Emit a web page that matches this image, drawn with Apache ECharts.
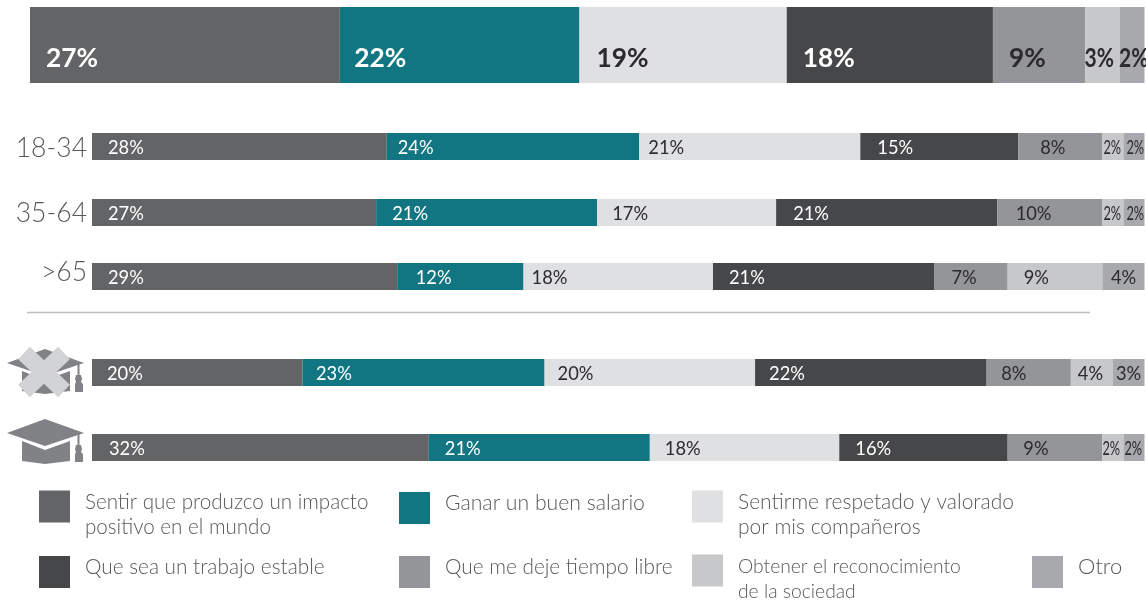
<!DOCTYPE html>
<html>
<head>
<meta charset="utf-8">
<title>Chart</title>
<style>
  html, body { margin: 0; padding: 0; background: #fff; }
  #chart { width: 1146px; height: 601px; }
</style>
<script src="https://cdn.jsdelivr.net/npm/echarts@6/dist/echarts.min.js"></script>
</head>
<body>
<div id="chart"></div>
<script>
// data
const categories = [
  'Sentir que produzco un impacto positivo en el mundo',
  'Ganar un buen salario',
  'Sentirme respetado y valorado por mis compañeros',
  'Que sea un trabajo estable',
  'Que me deje tiempo libre',
  'Obtener el reconocimiento de la sociedad',
  'Otro'
];
const rowNames = ['', '18-34', '35-64', '>65', '', ''];
const totalValues = [27.8, 21.5, 18.6, 18.5, 8.3, 3.1, 2.2];
const totalLabels = [27, 22, 19, 18, 9, 3, 2];
const age1834 = [28, 24, 21, 15, 8, 2, 2];
const age3564 = [27, 21, 17, 21, 10, 2, 2];
const age65 = [29, 12, 18, 21, 7, 9, 4];
const noDegree = [20, 23, 20, 22, 8, 4, 3];
const degree = [32, 21, 18, 16, 9, 2, 2];

// layout
const rowValues = [totalValues, age1834, age3564, age65, noDegree, degree];
const rowLabels = [totalLabels, age1834, age3564, age65, noDegree, degree];
const rowBoxes = [[30, 7, 76], [92, 133, 27], [92, 199, 27], [92, 263, 27], [92, 359, 27], [92, 434, 27]];
const labelInsets = [
  [16, 14.5, 17, 16, 16, -1, -1],
  [16, 11, 9, 17, 22, 1, 3],
  [16, 16, 15, 17, 18.5, 1, 3],
  [16, 18.5, 8, 16, 17.5, 16, 8.5],
  [15, 13.5, 13, 14, 14.6, 7, 3],
  [17, 16, 15, 16, 15.6, 0, 1]
];
const rowNameShift = [null, ['top', 4], ['top', 2], ['bottom', 9], null, null];
const colors = ['#636466', '#117681', '#dfe0e2', '#464749', '#939598', '#c7c8ca', '#a7a9ac'];
const labelColors = ['#fff', '#fff', '#2b2a2c', '#fff', '#2b2a2c', '#2b2a2c', '#2b2a2c'];
const legendSpots = [
  [39, 492, 20.6], [399, 492, 21.2], [692, 492, 21],
  [39, 556, 20.8], [399, 556, 20.8], [692, 556, 19.3], [1032, 556, 22]
];
const legendLines = {
  'Sentir que produzco un impacto positivo en el mundo': ['Sentir que produzco un impacto', 'positivo en el mundo'],
  'Sentirme respetado y valorado por mis compañeros': ['Sentirme respetado y valorado', 'por mis compañeros'],
  'Obtener el reconocimiento de la sociedad': ['Obtener el reconocimiento', 'de la sociedad']
};

function isNarrow(r, c) {
  return r === 0 ? c >= 5 : rowValues[r][c] <= 2;
}

const grids = [], xAxes = [], yAxes = [], series = [];
rowBoxes.forEach(function (box, r) {
  grids.push({ left: box[0], top: box[1], width: 1144.5 - box[0], height: box[2] });
  xAxes.push({ type: 'value', gridIndex: r, min: 0, max: 100, show: false });
  const shift = rowNameShift[r];
  yAxes.push({
    type: 'category', gridIndex: r, data: [rowNames[r]],
    axisLine: { show: false }, axisTick: { show: false },
    axisLabel: {
      margin: 5, fontFamily: 'Lato', fontWeight: 300, fontSize: 26.5, color: '#58595b',
      verticalAlign: shift ? shift[0] : 'middle',
      lineHeight: shift ? shift[1] : 26
    }
  });
  categories.forEach(function (name, c) {
    series.push({
      type: 'bar', name: name, stack: 'row' + r, xAxisIndex: r, yAxisIndex: r,
      barWidth: '100%', animation: false, silent: true,
      itemStyle: { color: colors[c] },
      data: [rowValues[r][c]],
      label: {
        show: !isNarrow(r, c), position: 'insideLeft', distance: 0,
        offset: [labelInsets[r][c], r === 0 ? 13.5 : 1.5],
        formatter: rowLabels[r][c] + '%',
        color: labelColors[c],
        fontFamily: 'Lato',
        fontWeight: r === 0 ? 700 : 400,
        fontSize: r === 0 ? 26.3 : 18.3
      }
    });
  });
});

const legends = categories.map(function (name, c) {
  const spot = legendSpots[c];
  const lines = legendLines[name];
  const textRich = { fontFamily: 'Lato', fontWeight: 300, fontSize: spot[2], lineHeight: 25, color: '#58595b' };
  return {
    // blank lines push the text up to the top of the swatch, top is corrected for the taller box
    left: spot[0], top: spot[1] - (lines ? 15.5 : 0), padding: 0,
    data: [name], selectedMode: false,
    itemWidth: 31, itemHeight: 32, icon: 'rect',
    formatter: function (n) {
      if (lines) return '{gapTop| }\n{t|' + lines[0] + '}\n{t|' + lines[1] + '}';
      return '{t|' + n + '}\n{gapBottom| }';
    },
    textStyle: {
      padding: [0, 0, 0, 10],
      rich: {
        t: textRich,
        gapTop: { fontSize: 10, lineHeight: 17 },
        gapBottom: { fontSize: 8, lineHeight: 10 }
      }
    }
  };
});

// mortarboard icon, drawn at the y of its row
function cap(dy) {
  const grey = '#808285';
  return [
    { type: 'polygon', shape: { points: [[7, 433 + dy], [45, 419 + dy], [84, 433 + dy], [45, 446 + dy]] }, style: { fill: grey } },
    { type: 'polygon', shape: { points: [[22, 441 + dy], [45, 450 + dy], [70, 441 + dy], [70, 461 + dy], [45, 464 + dy], [22, 461 + dy]] }, style: { fill: grey } },
    { type: 'line', shape: { x1: 78.5, y1: 434 + dy, x2: 78.5, y2: 449 + dy }, style: { stroke: grey, lineWidth: 2 } },
    { type: 'polygon', shape: { points: [[76, 445 + dy], [81, 445 + dy], [82, 449 + dy], [81, 452 + dy], [83, 454 + dy], [83, 462 + dy], [75, 462 + dy], [75, 454 + dy], [76, 452 + dy], [75, 449 + dy]] }, style: { fill: grey } }
  ];
}

const graphics = [
  { type: 'line', shape: { x1: 27, y1: 312.5, x2: 1090, y2: 312.5 }, style: { stroke: '#bcbec0', lineWidth: 1.5 } }
].concat(cap(-70), cap(0), [
  { type: 'line', shape: { x1: 24, y1: 353, x2: 64, y2: 391 }, style: { stroke: '#d1d3d4', lineWidth: 17 } },
  { type: 'line', shape: { x1: 64, y1: 353, x2: 24, y2: 391 }, style: { stroke: '#d1d3d4', lineWidth: 17 } }
]);

const myChart = echarts.init(document.getElementById('chart'));
myChart.setOption({
  animation: false,
  grid: grids,
  xAxis: xAxes,
  yAxis: yAxes,
  legend: legends,
  series: series,
  graphic: graphics
});

// the tiny segments have squeezed labels, placed from the axis scale
rowBoxes.forEach(function (box, r) {
  let sum = 0;
  rowValues[r].forEach(function (v, c) {
    if (isNarrow(r, c)) {
      const x = myChart.convertToPixel({ xAxisIndex: r }, sum);
      graphics.push({
        type: 'text', z: 10, x: x + labelInsets[r][c], y: box[1] + box[2] / 2 + (r === 0 ? 13.5 : 1.5), scaleX: r === 0 ? 0.8 : 0.7,
        style: {
          text: rowLabels[r][c] + '%', fill: labelColors[c], verticalAlign: 'middle',
          fontFamily: 'Lato', fontWeight: r === 0 ? 700 : 400, fontSize: r === 0 ? 26.3 : 18.3
        }
      });
    }
    sum += v;
  });
});
myChart.setOption({ graphic: graphics }, { replaceMerge: ['graphic'] });
</script>
</body>
</html>
